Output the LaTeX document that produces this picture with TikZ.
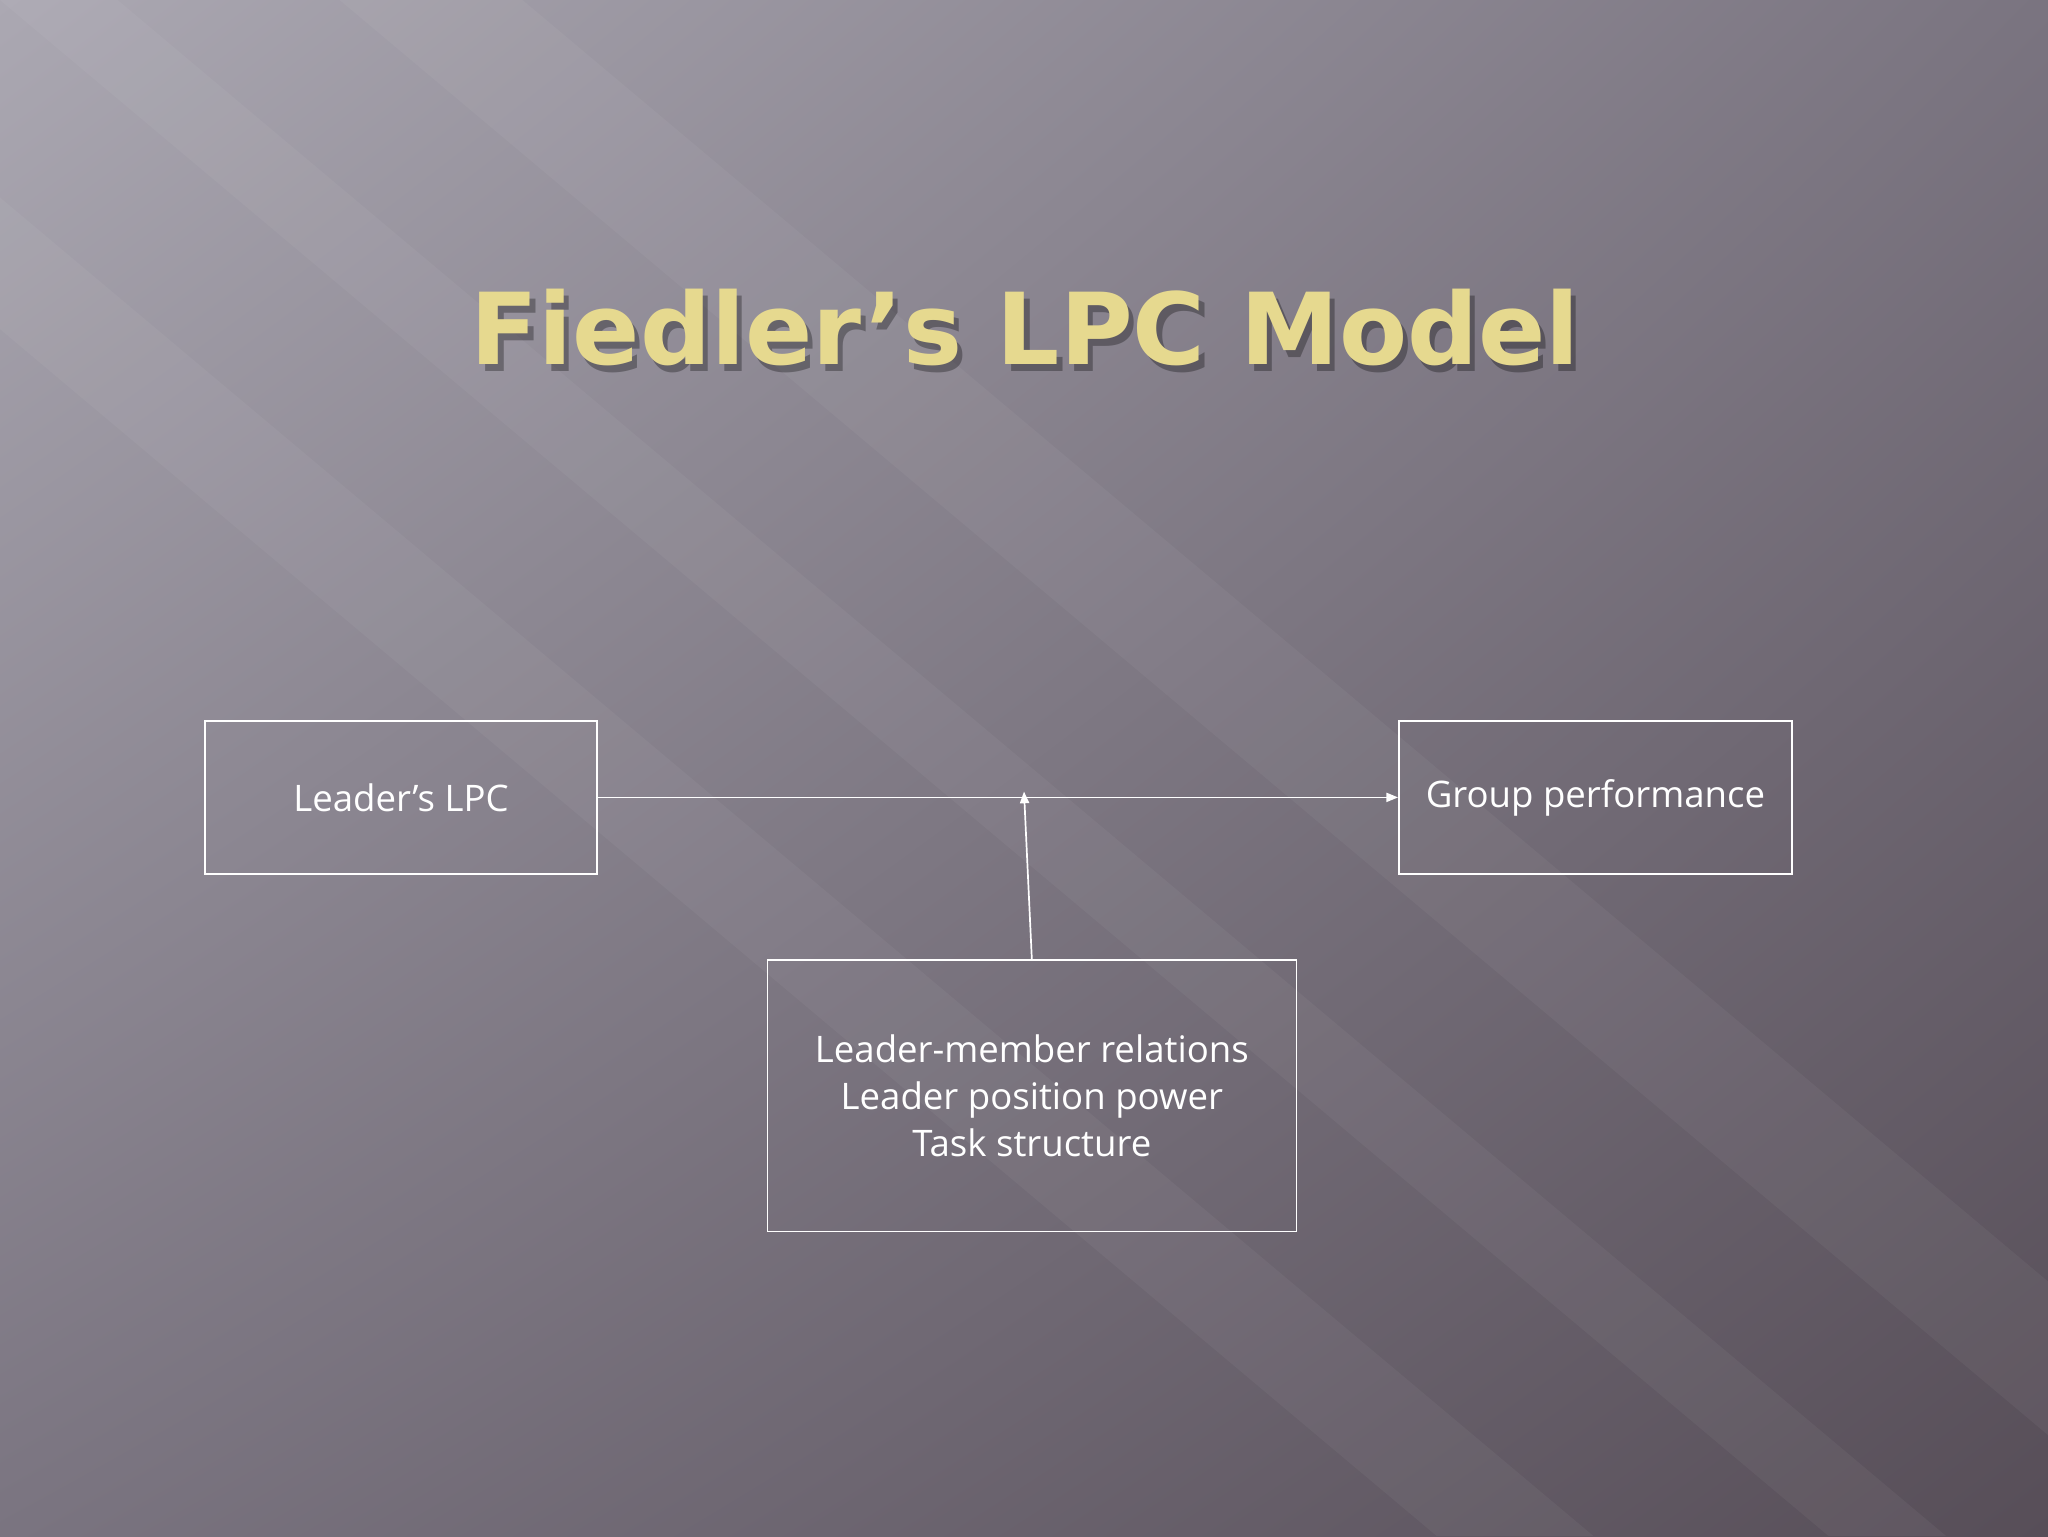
\documentclass[tikz,border=0pt]{standalone}
\usepackage{fontspec}
\setmainfont{DejaVu Sans}
\newfontfamily\bodyfont{Open Sans}
\usetikzlibrary{arrows.meta,shadings}
\definecolor{bgA}{HTML}{ABA8B2}
\definecolor{bgB}{HTML}{7A7480}
\definecolor{bgC}{HTML}{574E58}
\definecolor{gold}{HTML}{E6D98F}
\tikzset{
  box/.style={draw=white, line width=1.2pt, text=white, font=\bodyfont\fontsize{28}{36}\selectfont, align=center, inner sep=0pt},
  conn/.style={draw=white, line width=1.3pt, -{Triangle[length=9pt,width=7pt]}},
  ttl/.style={font=\bfseries\fontsize{76}{90}\selectfont}
}
\begin{document}
\begin{tikzpicture}[x=1pt,y=-1pt]
\useasboundingbox (0,0) rectangle (1568,1176);
\shade[upper left=bgA, upper right=bgB, lower left=bgB, lower right=bgC] (0,0) rectangle (1568,1176);
\foreach \o/\w in {0/120, 300/90, 560/140}{
  \fill[white, opacity=0.045] (\o-300,0) -- (\o-300+\w,0) -- (\o+1100+\w,1176) -- (\o+1100,1176) -- cycle;
}
\node[ttl, text=black, opacity=0.3] at (789,256) {Fiedler’s LPC Model};
\node[ttl, text=gold] (title) at (785,251) {Fiedler’s LPC Model};
\node[box, minimum width=300pt, minimum height=117pt] (lpc) at (307,610.5) {Leader’s LPC};
\node[box, minimum width=301pt, minimum height=117pt] (gp) at (1221.5,610.5) {Group performance};
\node[box, minimum width=405pt, minimum height=208pt] (sit) at (790,839) {Leader-member relations\\Leader position power\\Task structure};
\coordinate (mid) at (784,606);
\draw[conn] (lpc.east) -- (gp.west);
\draw[conn] (sit.north) -- (mid);
\end{tikzpicture}
\end{document}
